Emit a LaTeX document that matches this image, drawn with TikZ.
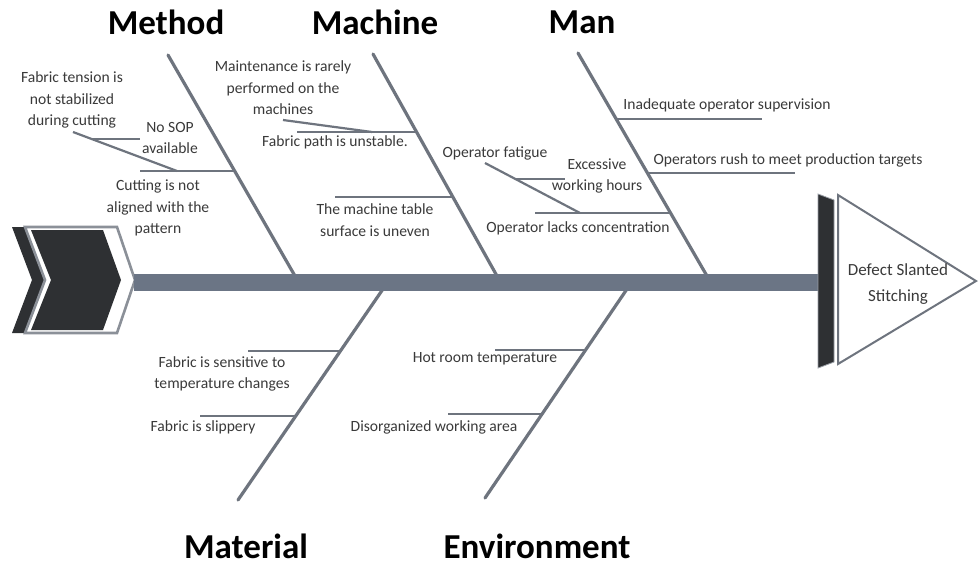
\documentclass[tikz,border=0pt]{standalone}
\usepackage{fontspec}
\setmainfont{Carlito}
\definecolor{bonecol}{HTML}{6E747E}
\definecolor{spinecol}{HTML}{6B7585}
\definecolor{darkcol}{HTML}{2E3033}
\definecolor{txtcol}{HTML}{3A3A3A}
\begin{document}
\begin{tikzpicture}[x=1pt,y=-1pt,
  bone/.style={draw=bonecol,line width=3.2pt,line cap=round},
  twig/.style={draw=bonecol,line width=2.2pt},
  lbl/.style={text=txtcol,align=center,inner sep=0pt,font=\fontsize{15.6}{21.5}\selectfont},
  ttl/.style={text=black,inner sep=0pt,font=\fontsize{35}{40}\selectfont\bfseries},
  headlbl/.style={text=txtcol,align=center,inner sep=0pt,font=\fontsize{17}{26}\selectfont}]
\useasboundingbox (0,0) rectangle (978,566);
\fill[white] (0,0) rectangle (978,566);

% bone coordinates
\coordinate (meT) at (168,55);  \coordinate (meB) at (295,276);
\coordinate (maT) at (373,54);  \coordinate (maB) at (497,276);
\coordinate (mnT) at (578,53);  \coordinate (mnB) at (707,276);
\coordinate (mtT) at (383,289); \coordinate (mtB) at (238,500);
\coordinate (evT) at (627,289); \coordinate (evB) at (485,498);

\draw[bone] (meT) -- (meB);
\draw[bone] (maT) -- (maB);
\draw[bone] (mnT) -- (mnB);
\draw[bone] (mtT) -- (mtB);
\draw[bone] (evT) -- (evB);

% tail chevrons
\fill[darkcol] (12,227) -- (100,227) -- (118,280) -- (100,333) -- (12,333) -- (32,280) -- cycle;
\filldraw[fill=white,draw=bonecol!80,line width=2.6pt] (25,227) -- (117,227) -- (135,280) -- (117,333) -- (25,333) -- (45,280) -- cycle;
\fill[darkcol] (31,230) -- (103,230) -- (121,280) -- (103,330) -- (31,330) -- (51,280) -- cycle;

% spine
\node[fill=spinecol,inner sep=0pt,minimum width=689pt,minimum height=17pt,anchor=west] (spine) at (134,282.5) {};

% head
\filldraw[fill=darkcol,draw=bonecol!70,line width=0.8pt] (818,194) -- (834,200) -- (834,362) -- (818,368) -- cycle;
\filldraw[fill=white,draw=bonecol,line width=2pt] (838,195) -- (976,281) -- (838,364) -- cycle;
\node[headlbl] (effect) at (898,284) {Defect Slanted\\Stitching};

% titles
\node[ttl] (tMethod) at (166,22) {Method};
\node[ttl] (tMachine) at (375,22) {Machine};
\node[ttl] (tMan) at (582,22) {Man};
\node[ttl] (tMaterial) at (246,546) {Material};
\node[ttl] (tEnv) at (537,546) {Environment};

% Method causes
\coordinate (c1a) at (140,171); \coordinate (c1b) at (235,171);
\draw[twig] (c1a) -- (c1b);
\coordinate (c2a) at (73,132); \coordinate (c2b) at (177,171);
\draw[twig] (c2a) -- (c2b);
\coordinate (c3a) at (91,139); \coordinate (c3b) at (140,139);
\draw[twig] (c3a) -- (c3b);
\node[lbl] (fabtension) at (72,100) {Fabric tension is\\not stabilized\\during cutting};
\node[lbl] (nosop) at (170,138) {No SOP\\available};
\node[lbl] (cutting) at (158,208) {Cutting is not\\aligned with the\\pattern};

% Machine causes
\coordinate (d1a) at (297,132); \coordinate (d1b) at (417,132);
\draw[twig] (d1a) -- (d1b);
\coordinate (d2a) at (283,120); \coordinate (d2b) at (372,132);
\draw[twig] (d2a) -- (d2b);
\coordinate (d3a) at (335,197); \coordinate (d3b) at (454,197);
\draw[twig] (d3a) -- (d3b);
\node[lbl] (maint) at (283,88) {Maintenance is rarely\\performed on the\\machines};
\node[lbl] (fabpath) at (335,142) {Fabric path is unstable.};
\node[lbl] (table) at (375,220) {The machine table\\surface is uneven};

% Man causes
\coordinate (e1a) at (617,119); \coordinate (e1b) at (762,119);
\draw[twig] (e1a) -- (e1b);
\coordinate (e2a) at (648,173); \coordinate (e2b) at (795,173);
\draw[twig] (e2a) -- (e2b);
\coordinate (e3a) at (535,213); \coordinate (e3b) at (671,213);
\draw[twig] (e3a) -- (e3b);
\coordinate (e4a) at (485,163); \coordinate (e4b) at (580,213);
\draw[twig] (e4a) -- (e4b);
\coordinate (e5a) at (515,179); \coordinate (e5b) at (565,179);
\draw[twig] (e5a) -- (e5b);
\node[lbl] (inadequate) at (727,105) {Inadequate operator supervision};
\node[lbl] (rush) at (788,160) {Operators rush to meet production targets};
\node[lbl] (lacks) at (578,228) {Operator lacks concentration};
\node[lbl] (fatigue) at (495,153) {Operator fatigue};
\node[lbl] (excessive) at (597,176) {Excessive\\working hours};

% Material causes
\coordinate (f1a) at (248,351); \coordinate (f1b) at (341,351);
\draw[twig] (f1a) -- (f1b);
\coordinate (f2a) at (200,416); \coordinate (f2b) at (296,416);
\draw[twig] (f2a) -- (f2b);
\node[lbl] (sensitive) at (222,374) {Fabric is sensitive to\\temperature changes};
\node[lbl] (slippery) at (203,427) {Fabric is slippery};

% Environment causes
\coordinate (g1a) at (495,350); \coordinate (g1b) at (586,350);
\draw[twig] (g1a) -- (g1b);
\coordinate (g2a) at (448,414); \coordinate (g2b) at (543,414);
\draw[twig] (g2a) -- (g2b);
\node[lbl] (hot) at (485,359) {Hot room temperature};
\node[lbl] (disorg) at (434,427) {Disorganized working area};
\end{tikzpicture}
\end{document}
